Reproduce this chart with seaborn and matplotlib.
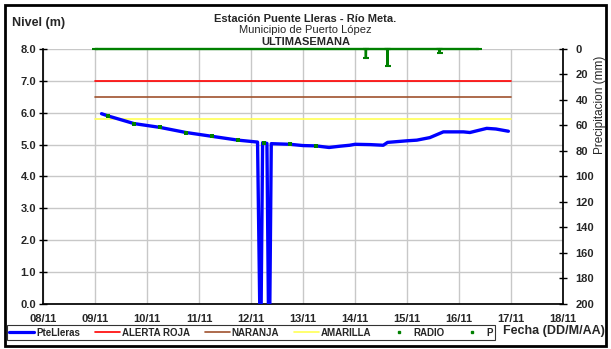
import matplotlib
matplotlib.use("Agg")
import matplotlib.pyplot as plt
import matplotlib.dates as mdates
from matplotlib.lines import Line2D
from matplotlib.patches import Rectangle
import seaborn as sns
import pandas as pd

# River level (m), station Puente Lleras
level_times = [
    "2013-11-09 03:00", "2013-11-09 06:00", "2013-11-09 18:00", "2013-11-10 06:00",
    "2013-11-10 18:00", "2013-11-11 06:00", "2013-11-11 18:00", "2013-11-12 03:00",
    "2013-11-12 04:00", "2013-11-12 04:40", "2013-11-12 05:20", "2013-11-12 06:00",
    "2013-11-12 07:20", "2013-11-12 08:00", "2013-11-12 08:40", "2013-11-12 09:20",
    "2013-11-12 18:00", "2013-11-13 00:00", "2013-11-13 06:00", "2013-11-13 12:00",
    "2013-11-13 17:00", "2013-11-13 21:30", "2013-11-14 00:00", "2013-11-14 07:00",
    "2013-11-14 13:00", "2013-11-14 15:00", "2013-11-15 00:00", "2013-11-15 04:30",
    "2013-11-15 10:30", "2013-11-15 16:45", "2013-11-16 02:00", "2013-11-16 05:00",
    "2013-11-16 12:45", "2013-11-16 17:00", "2013-11-16 22:45",
]
level_values = [
    5.97, 5.90, 5.66, 5.54,
    5.38, 5.26, 5.14, 5.08,
    0.0, 0.0, 5.06, 5.05,
    5.04, 0.0, 0.0, 5.03,
    5.01, 4.97, 4.96, 4.91,
    4.95, 4.98, 5.01, 5.00,
    4.98, 5.07, 5.12, 5.14,
    5.22, 5.40, 5.40, 5.38,
    5.51, 5.49, 5.42,
]

# Radio-reported readings
radio_times = [
    "2013-11-09 06:00", "2013-11-09 18:00", "2013-11-10 06:00", "2013-11-10 18:00",
    "2013-11-11 06:00", "2013-11-11 18:00", "2013-11-12 06:00", "2013-11-12 18:00",
    "2013-11-13 06:00",
]
radio_values = [5.90, 5.66, 5.54, 5.38, 5.26, 5.14, 5.05, 5.01, 4.96]

# Precipitation (mm)
precip_times = [
    "2013-11-09 00:00", "2013-11-14 04:55", "2013-11-14 05:00", "2013-11-14 05:05",
    "2013-11-14 14:55", "2013-11-14 15:00", "2013-11-14 15:05", "2013-11-15 14:55",
    "2013-11-15 15:00", "2013-11-15 15:05", "2013-11-16 09:00",
]
precip_values = [0, 0, 7, 0, 0, 13, 0, 0, 3, 0, 0]

# Alert thresholds (m)
alert_names = ["ALERTA ROJA", "NARANJA", "AMARILLA"]
alert_levels = [7.0, 6.5, 5.8]
alert_colors = ["#FF0000", "#A0522D", "#FFFF55"]
alert_span = ["2013-11-09 00:00", "2013-11-17 00:00"]

x_limits = ["2013-11-08 00:00", "2013-11-18 00:00"]
level_ticks = [0, 1, 2, 3, 4, 5, 6, 7, 8]
precip_ticks = list(range(0, 201, 20))

level_df = pd.DataFrame({"t": pd.to_datetime(level_times), "v": level_values})
radio_df = pd.DataFrame({"t": pd.to_datetime(radio_times), "v": radio_values})
precip_df = pd.DataFrame({"t": pd.to_datetime(precip_times), "v": precip_values})
span = pd.to_datetime(alert_span)

sns.set_theme(style="white")
plt.rcParams["font.family"] = ["Liberation Sans", "DejaVu Sans"]

fig = plt.figure(figsize=(6.11, 3.49), dpi=100)
ax = fig.add_axes([0.0704, 0.129, 0.8512, 0.7306])

# Grid
ax.grid(True, axis="both", color="#C8C8C8", linewidth=1.0)
ax.set_axisbelow(True)

for name, lvl, col in zip(alert_names, alert_levels, alert_colors):
    ax.plot(span, [lvl, lvl], color=col, linewidth=1.2, zorder=2)

sns.lineplot(data=level_df, x="t", y="v", ax=ax, color="#0000FF", linewidth=2.4,
             zorder=3, estimator=None, sort=False)
sns.scatterplot(data=radio_df, x="t", y="v", ax=ax, color="#008000", s=7,
                marker="s", linewidth=0, zorder=4)

ax.set_xlim(pd.to_datetime(x_limits))
ax.set_ylim(0, 8)
ax.set_yticks(level_ticks)
ax.set_yticklabels([f"{v:.1f}" for v in level_ticks])
ax.xaxis.set_major_locator(mdates.DayLocator())
ax.xaxis.set_major_formatter(mdates.DateFormatter("%d/%m"))
ax.set_xlabel("")
ax.set_ylabel("")
for sp in ax.spines.values():
    sp.set_visible(False)
ax.spines["left"].set_visible(True)
ax.spines["bottom"].set_visible(True)
ax.spines["left"].set_color("black")
ax.spines["bottom"].set_color("black")
ax.tick_params(axis="both", which="major", direction="inout", length=6,
               width=1, color="black", labelsize=8, pad=2)
ax.tick_params(axis="x", pad=4)
for lab in ax.get_xticklabels() + ax.get_yticklabels():
    lab.set_fontweight("bold")

# Precipitation on inverted right axis
ax2 = ax.twinx()
ax2.plot(precip_df["t"], precip_df["v"], color="#008000", linewidth=1.7,
         marker="_", markersize=4, markeredgewidth=1.5, zorder=5, clip_on=False)
ax2.set_ylim(200, 0)
ax2.set_yticks(precip_ticks)
for sp in ax2.spines.values():
    sp.set_visible(False)
ax2.spines["right"].set_visible(True)
ax2.spines["right"].set_color("black")
ax2.tick_params(axis="y", direction="inout", length=6, width=1, color="black",
                labelsize=8, pad=6, right=True)
for lab in ax2.get_yticklabels():
    lab.set_fontweight("bold")
ax2.grid(False)
ax2.set_ylabel("")
fig.text(0.982, 0.70, "Precipitacion (mm)", rotation=90, ha="center", va="center",
         fontsize=8.5)

# Titles
fig.text(0.5, 0.937, "Estación Puente Lleras - Río Meta.", ha="center",
         fontsize=8, fontweight="bold")
fig.text(0.5, 0.905, "Municipio de Puerto López", ha="center", fontsize=8)
fig.text(0.5, 0.872, "ULTIMASEMANA", ha="center", fontsize=8, fontweight="bold")
fig.text(0.02, 0.925, "Nivel (m)", ha="left", fontsize=9, fontweight="bold")
fig.text(0.823, 0.043, "Fecha (DD/M/AA)", ha="left", fontsize=9, fontweight="bold")

# Legend
handles = [
    Line2D([], [], color="#0000FF", linewidth=2.3),
    Line2D([], [], color=alert_colors[0], linewidth=1.2),
    Line2D([], [], color=alert_colors[1], linewidth=1.2),
    Line2D([], [], color=alert_colors[2], linewidth=1.2),
    Line2D([], [], color="#008000", marker="s", markersize=2, linestyle="none"),
    Line2D([], [], color="#008000", marker="s", markersize=2, linestyle="none"),
]
labels = ["PteLleras"] + alert_names + ["RADIO", "P"]
leg = fig.legend(handles, labels, loc="lower left", bbox_to_anchor=(0.011, 0.025),
                 ncol=6, fontsize=7, frameon=True, fancybox=False,
                 handlelength=2.6, handletextpad=0.2, columnspacing=1.5,
                 borderpad=0.25, borderaxespad=0)
for t in leg.get_texts():
    t.set_fontweight("bold")
leg.get_frame().set_edgecolor("black")
leg.get_frame().set_linewidth(0.8)

# Outer frame
fig.patches.append(Rectangle((0.008, 0.008), 0.984, 0.978, transform=fig.transFigure,
                             fill=False, edgecolor="black", linewidth=2))

fig.savefig("out.png", dpi=100)
